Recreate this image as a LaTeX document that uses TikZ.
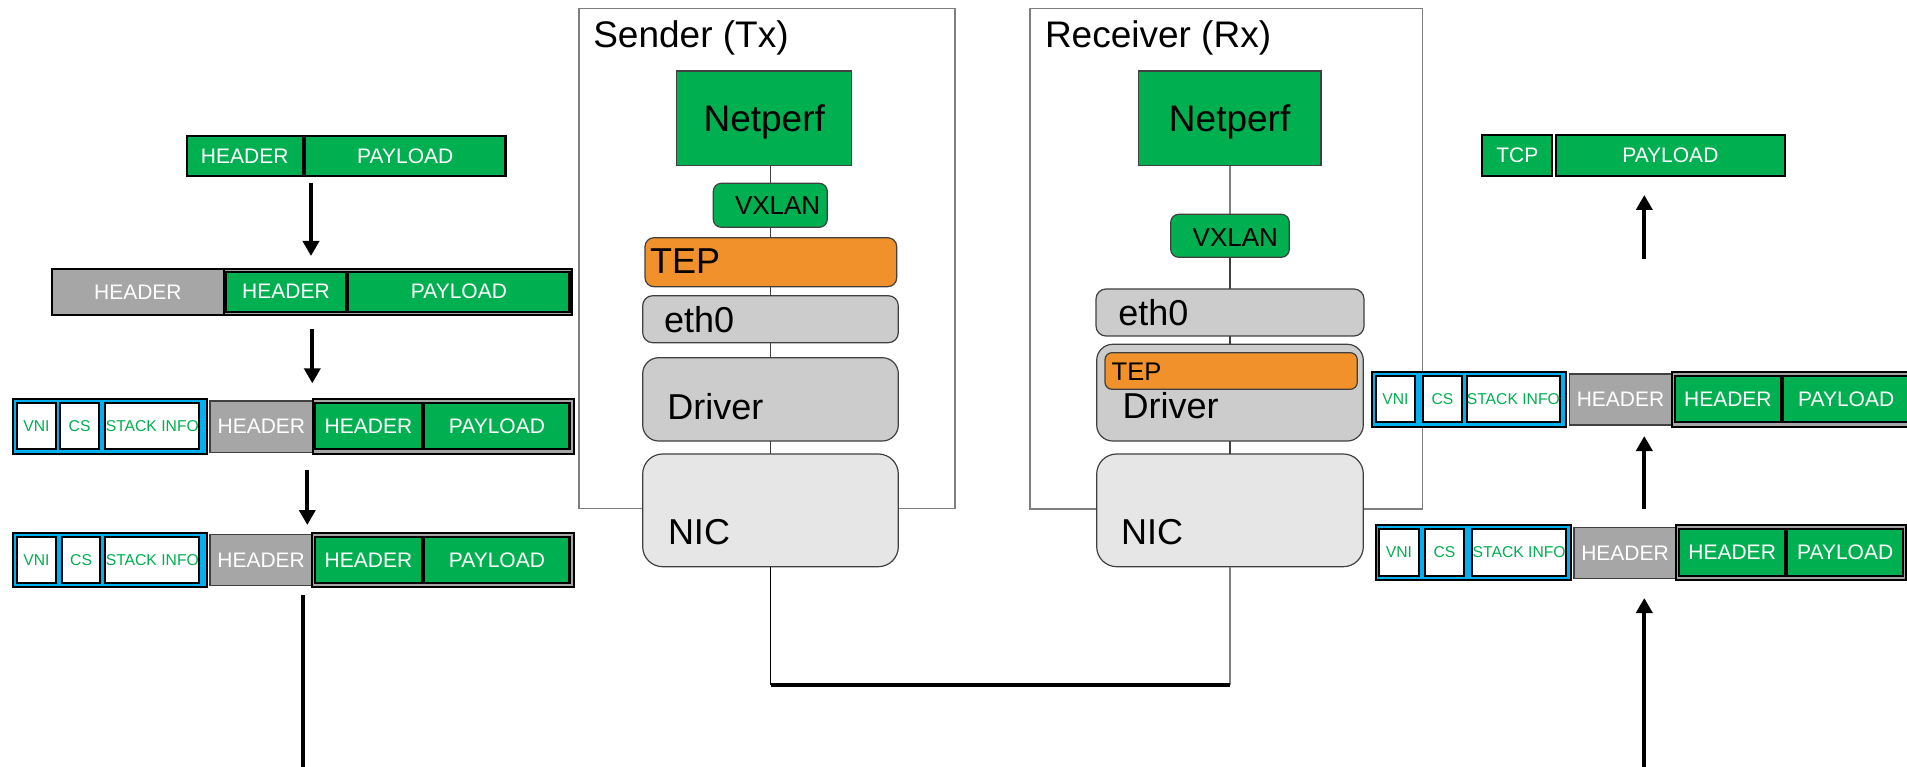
\documentclass[tikz,border=0pt]{standalone}
\usepackage{fontspec}
\setmainfont{Liberation Sans}
\usetikzlibrary{arrows.meta}
\pgfdeclarelayer{bg}
\pgfsetlayers{bg,main}
\newcommand\myfs[1]{\fontsize{#1}{#1}\selectfont}
% style, name, x1, y1, x2, y2, text
\newcommand\rnode[7]{%
  \pgfmathsetmacro\rnw{#5-#3}%
  \pgfmathsetmacro\rnh{#6-#4}%
  \node[#1, minimum width=\rnw pt, minimum height=\rnh pt, inner sep=0pt, outer sep=0pt] (#2) at ({(#3+#5)/2},{(#4+#6)/2}) {\makebox[0pt]{#7}};%
}
\definecolor{pgreen}{HTML}{00B050}
\definecolor{pblue}{HTML}{00B0F0}
\definecolor{pgray}{HTML}{A6A6A6}
\definecolor{porange}{HTML}{F0912B}
\definecolor{lgray}{HTML}{CCCCCC}
\definecolor{llgray}{HTML}{E6E6E6}
\definecolor{bord}{HTML}{404040}
\definecolor{hostb}{HTML}{7F7F7F}
\begin{document}
\begin{tikzpicture}[x=1pt,y=-1pt,
  host/.style={draw=hostb, line width=1.3pt},
  netp/.style={fill=pgreen, draw=bord, line width=1.3pt, font=\myfs{37}, text depth=0pt},
  vx/.style={fill=pgreen, draw=bord, line width=1.2pt, rounded corners=8pt},
  tepb/.style={fill=porange, draw=bord, line width=1.2pt, rounded corners=9pt},
  ethb/.style={fill=lgray, draw=bord, line width=1.2pt, rounded corners=10pt},
  drvb/.style={fill=lgray, draw=bord, line width=1.2pt, rounded corners=16pt},
  nicb/.style={fill=llgray, draw=bord, line width=1.2pt, rounded corners=20pt},
  lbl/.style={anchor=base west, inner sep=0pt, outer sep=0pt},
  cg/.style={fill=pgreen, draw=black, line width=2.2pt, text=white, font=\myfs{21}},
  cgray/.style={fill=pgray, draw=black!75, line width=1.5pt, text=white, font=\myfs{21}},
  pframe/.style={fill=pgray, draw=black, line width=2.2pt},
  bluef/.style={fill=pblue, draw=black, line width=2.2pt},
  cw/.style={fill=white, draw=black, line width=2pt, text=pgreen, font=\myfs{15.7}},
  arr/.style={line width=4pt, -{Triangle[width=16pt,length=15pt]}},
  stk/.style={draw=bord, line width=1.2pt}]
\useasboundingbox (0,0) rectangle (1907,767);

% host boxes
\rnode{host}{sender}{579}{8.3}{955}{508.5}{}
\rnode{host}{receiver}{1030}{8.3}{1422.7}{509}{}
\node[lbl, font=\myfs{37}] (sendt) at (593.3,47.7) {Sender (Tx)};
\node[lbl, font=\myfs{37}] (recvt) at (1045,47.7) {Receiver (Rx)};

% sender stack
\rnode{netp}{snet}{676.7}{71}{851.7}{165.7}{Netperf}
\rnode{vx}{svx}{713.3}{183.3}{827.3}{227.3}{}
\rnode{tepb}{stepn}{645}{237.7}{896.7}{286.7}{}
\rnode{ethb}{seth}{642.7}{295.7}{898.3}{342.7}{}
\rnode{drvb}{sdrv}{642.7}{357.7}{898.3}{441}{}
\rnode{nicb}{snic}{642.7}{454}{898.3}{566.7}{}
\node[lbl, font=\myfs{26}] (svxt) at (735,215) {VXLAN};
\node[lbl, font=\myfs{36}] (stept) at (650,274) {TEP};
\node[lbl, font=\myfs{36}] (setht) at (664,332.7) {eth0};
\node[lbl, font=\myfs{36}] (sdrvt) at (667.3,419.3) {Driver};
\node[lbl, font=\myfs{36}] (snict) at (668,544) {NIC};

% receiver stack
\rnode{netp}{rnet}{1138.3}{71}{1321}{165.7}{Netperf}
\rnode{vx}{rvx}{1170.7}{214.3}{1289.3}{257.3}{}
\rnode{ethb}{reth}{1096}{289}{1364}{336}{}
\rnode{drvb}{rdrv}{1096.7}{344.3}{1363.3}{441}{}
\rnode{tepb, rounded corners=7pt}{rtep}{1105}{352.7}{1357.3}{389.3}{}
\rnode{nicb}{rnic}{1096.7}{454}{1363.3}{566.7}{}
\node[lbl, font=\myfs{26}] (rvxt) at (1192.7,246.7) {VXLAN};
\node[lbl, font=\myfs{36}] (retht) at (1118.3,326) {eth0};
\node[lbl, font=\myfs{25.5}] (rtept) at (1111.7,381) {TEP};
\node[lbl, font=\myfs{36}] (rdrvt) at (1122.7,418.3) {Driver};
\node[lbl, font=\myfs{36}] (rnict) at (1121,544) {NIC};

\begin{pgfonlayer}{bg}
  \draw[stk] (snic.north) -- (snic.north |- snet.south);
  \draw[stk] (rnic.north) -- (rnic.north |- rvx.south);
  \draw[draw=hostb, line width=1.2pt] (rvx.north) -- (rvx.north |- rnet.south);
\end{pgfonlayer}

% link between NICs
\coordinate (lkl) at (770.5,685);
\coordinate (lkr) at (1230,685);
\draw[black, line width=1.2pt] (snic.south) -- (lkl);
\draw[hostb, line width=1.2pt] (rnic.south) -- (lkr);
\draw[black, line width=4pt] (lkl) -- (lkr);

% left packets
\rnode{cg}{p1h}{186.7}{135.7}{302.7}{176}{HEADER}
\rnode{cg}{p1p}{305}{135.7}{505.5}{176}{PAYLOAD}

\rnode{pframe}{p2f}{51.7}{269.3}{572}{315}{}
\rnode{cgray, draw=black, line width=2.2pt}{p2g}{51.7}{269.3}{224}{315}{HEADER}
\rnode{cg}{p2h}{226}{271.7}{346}{311.7}{HEADER}
\rnode{cg}{p2p}{348.3}{271.7}{569.5}{311.7}{PAYLOAD}

\rnode{bluef}{p3b}{12.7}{399.3}{207.3}{454}{}
\rnode{cw}{p3v}{17.3}{403.3}{55.7}{449.3}{VNI}
\rnode{cw}{p3c}{60}{403.3}{99.3}{449.3}{CS}
\rnode{cw}{p3s}{105.3}{403.3}{199.3}{449.3}{STACK INFO}
\rnode{cgray}{p3g}{210}{401}{312.7}{452.3}{HEADER}
\rnode{pframe}{p3f}{312.7}{399.3}{574}{454}{}
\rnode{cg}{p3h}{315.3}{403.3}{421.7}{449.3}{HEADER}
\rnode{cg}{p3p}{424.3}{403.3}{569.5}{449.3}{PAYLOAD}

\rnode{bluef}{p4b}{12.7}{532.7}{207.3}{587.3}{}
\rnode{cw}{p4v}{17.3}{536.7}{55.7}{583.3}{VNI}
\rnode{cw}{p4c}{62}{536.7}{100.3}{583.3}{CS}
\rnode{cw}{p4s}{105.3}{536.7}{199.3}{583.3}{STACK INFO}
\rnode{cgray}{p4g}{210}{534.7}{312.3}{585.3}{HEADER}
\rnode{pframe}{p4f}{312.3}{532.7}{574}{587.3}{}
\rnode{cg}{p4h}{315.3}{536.7}{421.7}{583.3}{HEADER}
\rnode{cg}{p4p}{424.3}{536.7}{569.5}{583.3}{PAYLOAD}

\coordinate (a1s) at (311,183.3);   \coordinate (a1e) at (311,256);
\coordinate (a2s) at (312.3,328.7); \coordinate (a2e) at (312.3,383.3);
\coordinate (a3s) at (307.3,470);   \coordinate (a3e) at (307.3,525);
\coordinate (a4s) at (302.7,595);   \coordinate (a4e) at (302.7,770);
\draw[arr] (a1s) -- (a1e);
\draw[arr] (a2s) -- (a2e);
\draw[arr] (a3s) -- (a3e);
\draw[line width=4pt] (a4s) -- (a4e);

% right packets
\rnode{cg}{t1}{1482.3}{135}{1552.3}{176}{TCP}
\rnode{cg}{t2}{1555.7}{135}{1785}{176}{PAYLOAD}

\rnode{bluef}{r1b}{1371.7}{372.3}{1566}{426.7}{}
\rnode{cw}{r1v}{1376}{376}{1415}{422.3}{VNI}
\rnode{cw}{r1c}{1423.3}{376}{1461.7}{422.3}{CS}
\rnode{cw}{r1s}{1466.7}{376}{1560}{422.3}{STACK INFO}
\rnode{cgray}{r1g}{1569.3}{374}{1671.7}{425}{HEADER}
\rnode{pframe}{r1f}{1671.7}{372.3}{1915}{426.7}{}
\rnode{cg}{r1h}{1675}{376}{1780.7}{422.3}{HEADER}
\rnode{cg}{r1p}{1783.3}{376}{1909}{422.3}{PAYLOAD}

\rnode{bluef}{r2b}{1375.7}{525}{1570.7}{580}{}
\rnode{cw}{r2v}{1379.2}{529.3}{1418.6}{575.7}{VNI}
\rnode{cw}{r2c}{1425}{529.3}{1464}{575.7}{CS}
\rnode{cw}{r2s}{1472.3}{529.3}{1566}{575.7}{STACK INFO}
\rnode{cgray}{r2g}{1574}{527.3}{1676}{578.3}{HEADER}
\rnode{pframe}{r2f}{1676}{525}{1906}{580}{}
\rnode{cg}{r2h}{1679.3}{529.3}{1785}{575.7}{HEADER}
\rnode{cg}{r2p}{1787.3}{529.3}{1903}{575.7}{PAYLOAD}

\coordinate (b1s) at (1644.3,259.3); \coordinate (b1e) at (1644.3,195);
\coordinate (b2s) at (1644.3,509);   \coordinate (b2e) at (1644.3,436);
\coordinate (b3s) at (1644.3,770);   \coordinate (b3e) at (1644.3,598);
\draw[arr] (b1s) -- (b1e);
\draw[arr] (b2s) -- (b2e);
\draw[arr] (b3s) -- (b3e);
\end{tikzpicture}
\end{document}
